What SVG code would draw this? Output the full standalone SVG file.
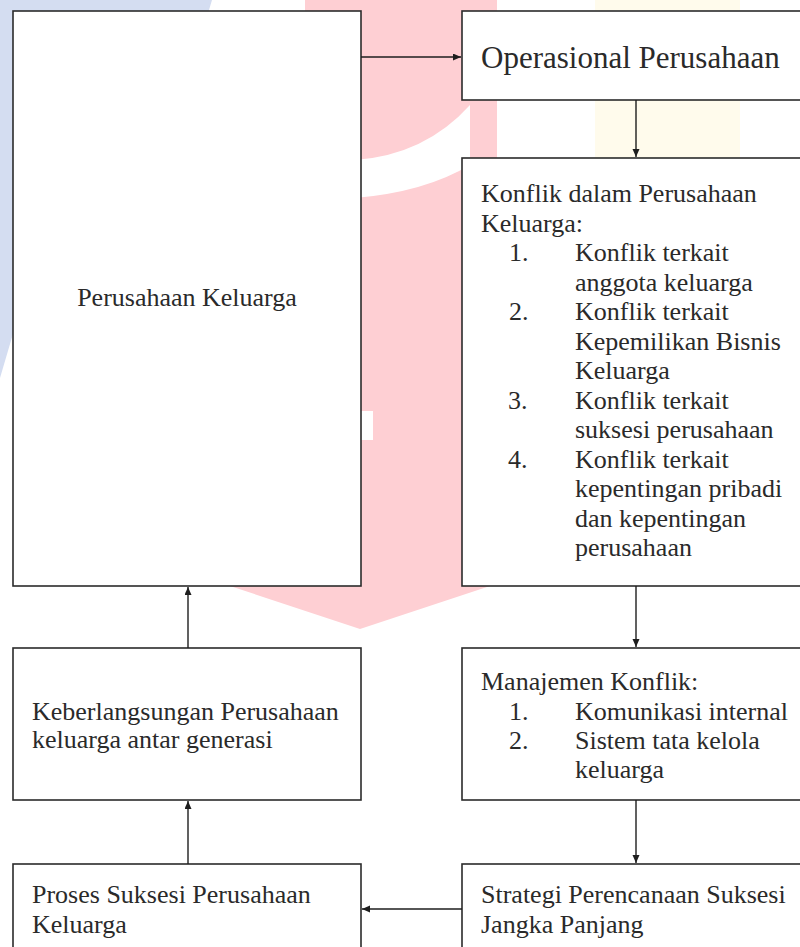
<svg xmlns="http://www.w3.org/2000/svg" width="800" height="947" viewBox="0 0 800 947">
  <style>
    .box { fill: #ffffff; stroke: #2b2b2b; stroke-width: 1.6; }
    .txt { font-family: "Liberation Serif", "Times New Roman", serif; font-size: 26px; fill: #2a2a2a; }
    .big { font-size: 31px; }
    .link { fill: none; stroke: #1e1e1e; stroke-width: 1.4; }
  </style>
  <defs>
    <marker id="arrow" markerUnits="userSpaceOnUse" markerWidth="10" markerHeight="8" refX="8" refY="3.5" orient="auto">
      <path d="M0,0 L8,3.5 L0,7 Z" fill="#1e1e1e"/>
    </marker>
  </defs>

  <!-- background watermark -->
  <rect x="0" y="0" width="800" height="947" fill="#ffffff"/>
  <g id="watermark">
    <path d="M0,0 H212 L200,40 L20,310 L0,378 Z" fill="#d4ddf1"/>
    <rect x="595" y="0" width="145" height="300" fill="#fffbec"/>
    <path d="M305,0 H497 V586 H490 L360,629 L230,586 H305 Z" fill="#fecfd3"/>
    <path d="M355,160 Q425,155 470,105 L470,165 Q425,192 355,198 Z" fill="#ffffff"/>
    <rect x="361" y="411" width="12" height="29" fill="#ffffff"/>
  </g>

  <!-- nodes -->
  <g id="perusahaan-keluarga">
    <rect class="box" x="13" y="11" width="348" height="575"/>
    <text class="txt" x="187" y="306" text-anchor="middle">Perusahaan Keluarga</text>
  </g>

  <g id="operasional">
    <rect class="box" x="462" y="11" width="345" height="89"/>
    <text class="txt big" x="481" y="68">Operasional Perusahaan</text>
  </g>

  <g id="konflik">
    <rect class="box" x="462" y="158" width="345" height="428"/>
    <text class="txt" x="481" y="202">Konflik dalam Perusahaan</text>
    <text class="txt" x="481" y="231.5">Keluarga:</text>
    <text class="txt" x="509" y="261">1.</text>
    <text class="txt" x="575" y="261">Konflik terkait</text>
    <text class="txt" x="575" y="290.5">anggota keluarga</text>
    <text class="txt" x="509" y="320">2.</text>
    <text class="txt" x="575" y="320">Konflik terkait</text>
    <text class="txt" x="575" y="349.5">Kepemilikan Bisnis</text>
    <text class="txt" x="575" y="379">Keluarga</text>
    <text class="txt" x="508" y="408.5">3.</text>
    <text class="txt" x="575" y="408.5">Konflik terkait</text>
    <text class="txt" x="575" y="438">suksesi perusahaan</text>
    <text class="txt" x="508" y="467.5">4.</text>
    <text class="txt" x="575" y="467.5">Konflik terkait</text>
    <text class="txt" x="575" y="497">kepentingan pribadi</text>
    <text class="txt" x="575" y="526.5">dan kepentingan</text>
    <text class="txt" x="575" y="556">perusahaan</text>
  </g>

  <g id="manajemen-konflik">
    <rect class="box" x="462" y="648" width="345" height="152"/>
    <text class="txt" x="481" y="690">Manajemen Konflik:</text>
    <text class="txt" x="509" y="719.5">1.</text>
    <text class="txt" x="575" y="719.5">Komunikasi internal</text>
    <text class="txt" x="509" y="748.5">2.</text>
    <text class="txt" x="575" y="748.5">Sistem tata kelola</text>
    <text class="txt" x="575" y="777.5">keluarga</text>
  </g>

  <g id="strategi">
    <rect class="box" x="462" y="864" width="345" height="100"/>
    <text class="txt" x="481" y="903">Strategi Perencanaan Suksesi</text>
    <text class="txt" x="481" y="933">Jangka Panjang</text>
  </g>

  <g id="keberlangsungan">
    <rect class="box" x="13" y="648" width="348" height="152"/>
    <text class="txt" x="32" y="720">Keberlangsungan Perusahaan</text>
    <text class="txt" x="32" y="748">keluarga antar generasi</text>
  </g>

  <g id="proses-suksesi">
    <rect class="box" x="13" y="864" width="348" height="100"/>
    <text class="txt" x="32" y="903">Proses Suksesi Perusahaan</text>
    <text class="txt" x="32" y="933">Keluarga</text>
  </g>

  <!-- connectors -->
  <g id="connectors">
    <path class="link" d="M361,57 H461" marker-end="url(#arrow)"/>
    <path class="link" d="M636,100 V157" marker-end="url(#arrow)"/>
    <path class="link" d="M636,586 V647" marker-end="url(#arrow)"/>
    <path class="link" d="M636,800 V863" marker-end="url(#arrow)"/>
    <path class="link" d="M462,909 H362" marker-end="url(#arrow)"/>
    <path class="link" d="M188,864 V801" marker-end="url(#arrow)"/>
    <path class="link" d="M188,648 V587" marker-end="url(#arrow)"/>
  </g>
</svg>
